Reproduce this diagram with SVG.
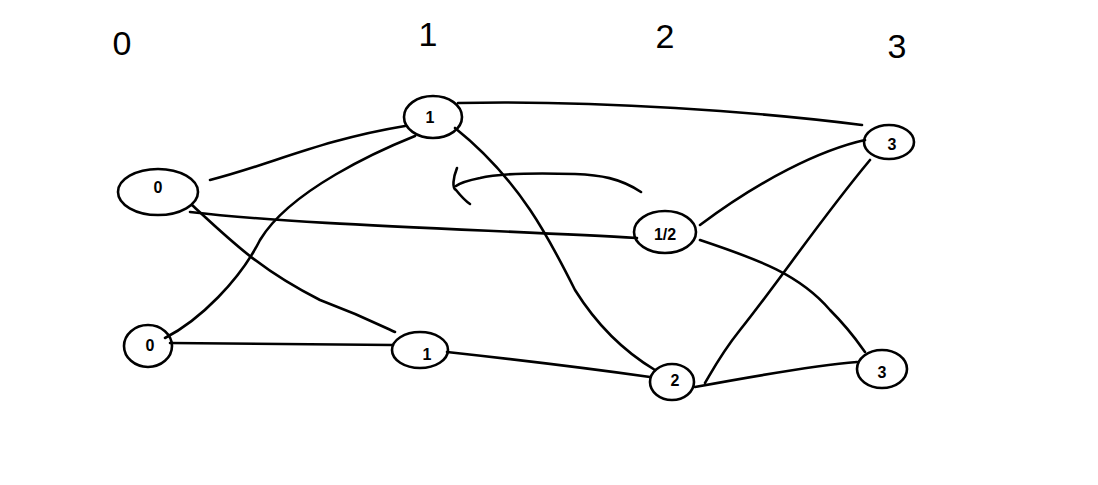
<svg xmlns="http://www.w3.org/2000/svg" width="1098" height="485" viewBox="0 0 1098 485">
<style>
.s{fill:none;stroke:#000;stroke-width:2.6;stroke-linecap:round;stroke-linejoin:round}
.t{font-family:"Liberation Sans",sans-serif;fill:#000;text-anchor:middle}
.h{font-size:34px}
.n{font-size:16px;font-weight:bold}
</style>
<rect width="1098" height="485" fill="#fff"/>
<g id="headers">
<text class="t h" x="122" y="55">0</text>
<text class="t h" x="428" y="46">1</text>
<text class="t h" x="665" y="48">2</text>
<text class="t h" x="897" y="58">3</text>
</g>
<g id="connectors">
<path class="s" d="M210,180 C270,165 320,140 405,126"/>
<path class="s" d="M190,212 C300,225 500,230 637,238"/>
<path class="s" d="M192,205 C230,240 260,270 320,300 C360,315 380,325 395,332"/>
<path class="s" d="M165,338 C200,320 240,280 260,240 C290,190 380,150 415,136"/>
<path class="s" d="M170,343 C250,344 330,345 393,345"/>
<path class="s" d="M458,103 C600,100 760,112 862,125"/>
<path class="s" d="M455,128 C520,180 550,240 575,290 C600,330 630,355 655,370"/>
<path class="s" d="M700,225 C760,180 820,150 865,140"/>
<path class="s" d="M700,240 C760,260 800,275 830,310 C850,330 860,345 865,352"/>
<path class="s" d="M870,160 C820,220 780,280 740,330 C720,355 710,375 705,383"/>
<path class="s" d="M447,352 C520,360 600,370 650,377"/>
<path class="s" d="M695,387 C760,375 820,365 857,362"/>
<path class="s" d="M641,192 C620,178 600,175 575,174 C540,173 500,173 480,178 C470,180 460,183 456,186"/>
<path class="s" d="M457,168 C453,178 452,188 456,190 C460,195 464,200 470,204"/>
</g>
<g id="n0a"><ellipse class="s" cx="158" cy="192" rx="40" ry="23"/><text class="t n" x="158" y="193">0</text></g>
<g id="n0b"><ellipse class="s" cx="148" cy="346" rx="24" ry="21"/><text class="t n" x="150" y="351">0</text></g>
<g id="n1a"><ellipse class="s" cx="433" cy="117" rx="29" ry="21"/><text class="t n" x="430" y="123">1</text></g>
<g id="n1b"><ellipse class="s" cx="420" cy="350" rx="28" ry="18"/><text class="t n" x="427" y="360">1</text></g>
<g id="n12"><ellipse class="s" cx="665" cy="232" rx="31" ry="21"/><text class="t n" x="665" y="240">1/2</text></g>
<g id="n2"><ellipse class="s" cx="672" cy="382" rx="22" ry="18"/><text class="t n" x="675" y="386">2</text></g>
<g id="n3a"><ellipse class="s" cx="889" cy="142" rx="25" ry="17"/><text class="t n" x="892" y="150">3</text></g>
<g id="n3b"><ellipse class="s" cx="882" cy="369" rx="25" ry="19"/><text class="t n" x="882" y="378">3</text></g>
</svg>
